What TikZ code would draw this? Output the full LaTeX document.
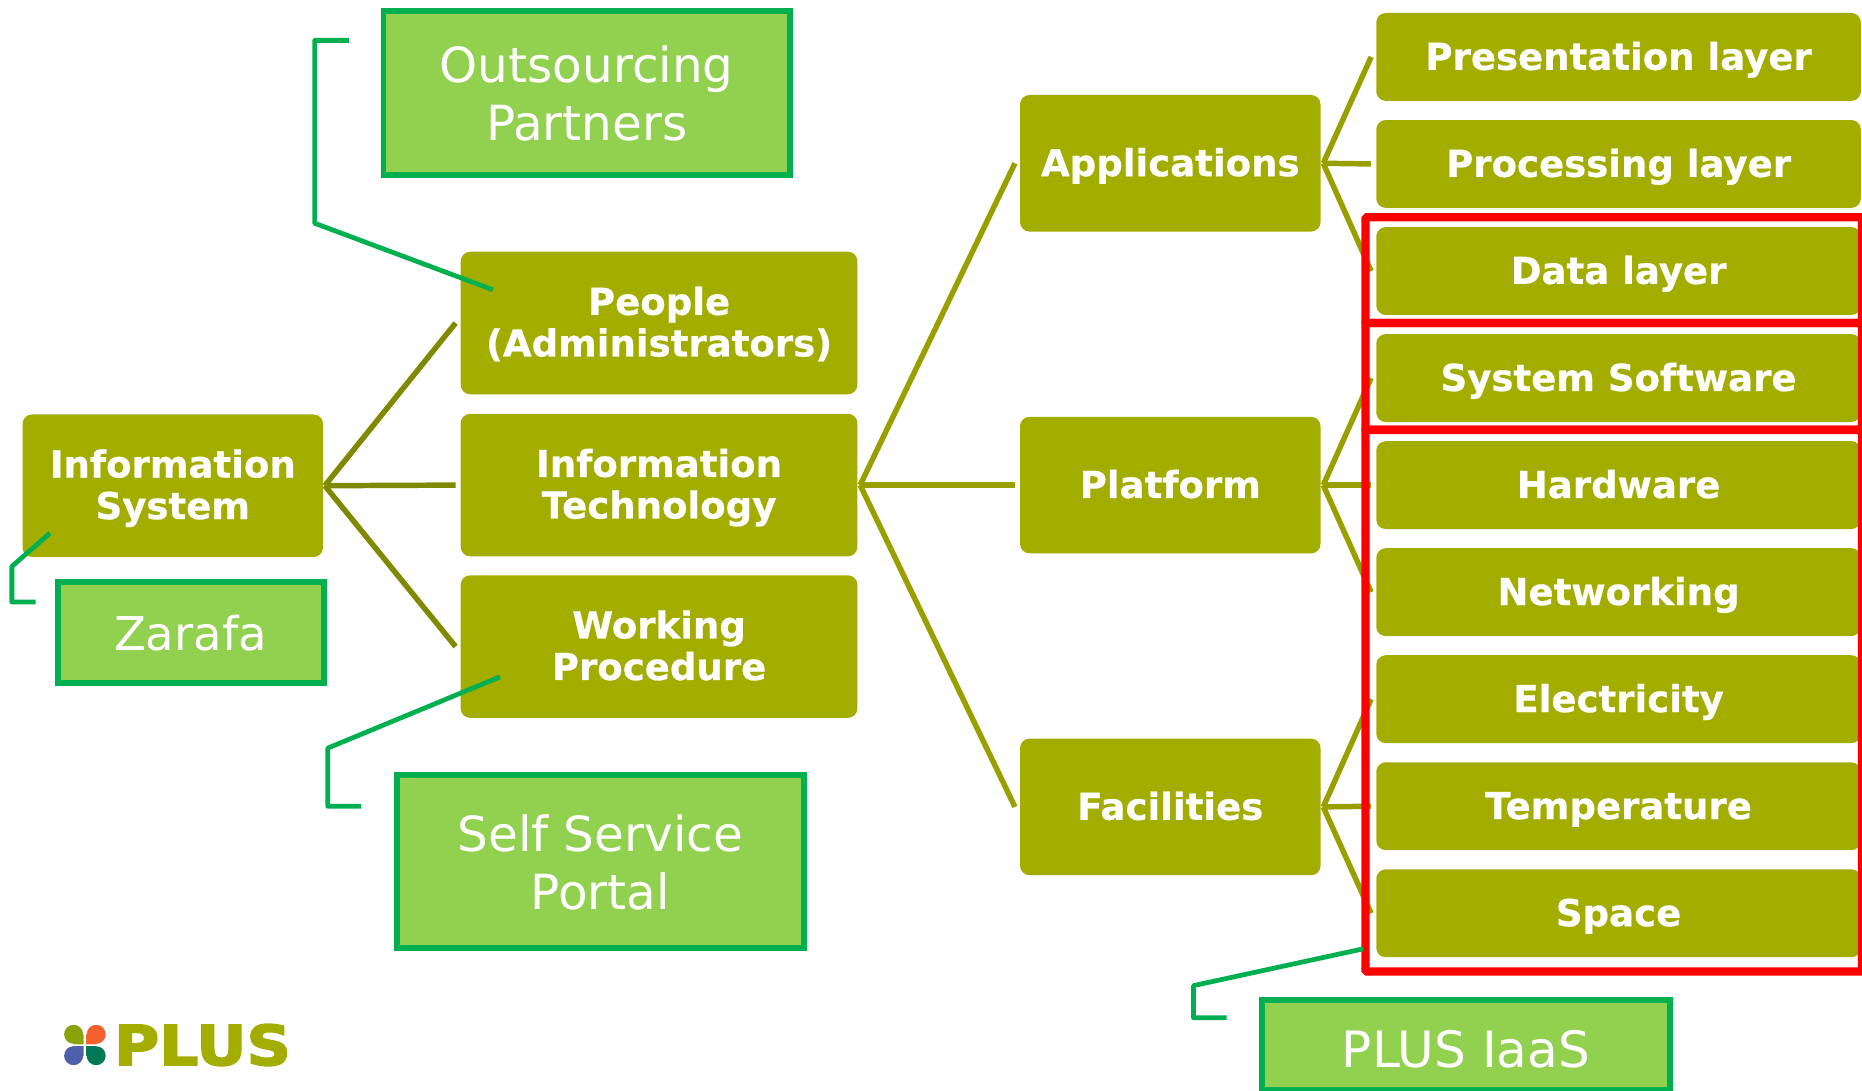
\documentclass[tikz,border=0pt]{standalone}
\usepackage{fontspec}
\setmainfont[BoldFeatures={FakeBold=0.6}]{DejaVu Sans}
\newfontfamily\logofont[BoldFeatures={FakeBold=3,FakeStretch=1.12}]{DejaVu Sans}
\usetikzlibrary{matrix}
\definecolor{boxolive}{HTML}{A3AD00}
\definecolor{linkdark}{HTML}{808A00}
\definecolor{linklight}{HTML}{9A9F00}
\definecolor{notefill}{HTML}{92D050}
\definecolor{noteline}{HTML}{00B050}
\definecolor{logoA}{HTML}{8AA30A}
\definecolor{logoB}{HTML}{F4602E}
\definecolor{logoC}{HTML}{4F5FAB}
\definecolor{logoD}{HTML}{007858}
\tikzset{
  olivebox/.style={fill=boxolive, rounded corners=0.2cm, inner sep=0pt, align=center, text=white,
    font=\fontsize{22.2}{24.9}\selectfont\bfseries},
  oneline/.style={text height=15.4pt, text depth=0pt},
  twoline/.style={text height=40pt, text depth=0pt},
  leafbox/.style={olivebox, oneline, minimum width=10.2cm, minimum height=1.85cm},
  midbox/.style={olivebox, oneline, minimum width=6.325cm, minimum height=2.875cm},
  secbox/.style={olivebox, twoline, minimum width=8.35cm, minimum height=3cm},
  notebox/.style={draw=noteline, fill=notefill, line width=0.125cm, inner sep=0pt, align=center, text=white,
    font=\fontsize{29}{34.8}\selectfont},
  redbox/.style={draw=red, line width=0.175cm, rounded corners=0.03cm, inner sep=0pt, minimum width=10.45cm},
  linkA/.style={draw=linkdark, line width=0.115cm},
  linkB/.style={draw=linklight, line width=0.115cm},
  callout/.style={draw=noteline, line width=0.1cm, line join=round}
}
\begin{document}
\begin{tikzpicture}[x=0.025cm, y=-0.025cm]
\useasboundingbox (0,0) rectangle (1568,918.7);
% boxes
\node[secbox, minimum width=6.325cm] (infosys) at (145.5,409) {Information\\System};
\node[secbox] (people) at (555,272) {People\\(Administrators)};
\node[secbox] (infotech) at (555,408.5) {Information\\Technology};
\node[secbox] (working) at (555,544.5) {Working\\Procedure};
\node[midbox] (apps) at (985.5,137.5) {Applications};
\node[midbox] (platform) at (985.5,408.5) {Platform};
\node[midbox] (facilities) at (985.5,679.5) {Facilities};
\matrix (L)[matrix of nodes, row sep=0.403cm, nodes={leafbox}] at (1363,408.5) {
Presentation layer\\
Processing layer\\
Data layer\\
System Software\\
Hardware\\
Networking\\
Electricity\\
Temperature\\
Space\\
};
% green notes
\node[notebox, minimum width=8.55cm, minimum height=3.45cm, twoline, text height=57.4pt] (outsourcing) at (494,78) {Outsourcing\\Partners};
\node[notebox, minimum width=5.6cm, minimum height=2.125cm, text height=21pt, text depth=0pt, font=\fontsize{27.9}{34.8}\selectfont] (zarafa) at (160.5,533) {Zarafa};
\node[notebox, minimum width=8.575cm, minimum height=3.65cm, twoline, text height=57.4pt] (selfservice) at (505.5,725.5) {Self Service\\Portal};
\node[notebox, minimum width=8.6cm, minimum height=1.9cm, text height=27pt, text depth=0pt, font=\fontsize{30}{34.8}\selectfont] (iaas) at (1234.5,880) {PLUS IaaS};
% tree lines
\foreach \t in {people,infotech,working}
  \draw[linkA] ([xshift=0.03cm]infosys.east) -- ([xshift=-0.1cm]\t.west);
\foreach \t in {apps,platform,facilities}
  \draw[linkB] ([xshift=0.05cm]infotech.east) -- ([xshift=-0.1cm]\t.west);
\foreach \i in {1,2,3}
  \draw[linkB] ([xshift=0.05cm]apps.east) -- ([xshift=-0.1cm]L-\i-1.west);
\foreach \i in {4,5,6}
  \draw[linkB] ([xshift=0.05cm]platform.east) -- ([xshift=-0.1cm]L-\i-1.west);
\foreach \i in {7,8,9}
  \draw[linkB] ([xshift=0.05cm]facilities.east) -- ([xshift=-0.1cm]L-\i-1.west);
% red frames
\node[redbox, minimum height=2.225cm] (reddata) at (1359,227.5) {};
\node[redbox, minimum height=2.25cm] (redsoft) at (1359,317) {};
\node[redbox, minimum height=11.4cm] (redinfra) at (1359,590) {};
% callouts
\coordinate (peopletip) at (415,244);
\coordinate (istip) at (42,449);
\coordinate (worktip) at (421,570);
\coordinate (iaastip) at (1148,799);
\draw[callout] (294,34) coordinate (outs1) -- (265,34) coordinate (outs2) -- (265,188) coordinate (outs3) -- (peopletip);
\draw[callout] (30,507) coordinate (zar1) -- (10,507) coordinate (zar2) -- (10,477) coordinate (zar3) -- (istip);
\draw[callout] (304,679) coordinate (self1) -- (276,679) coordinate (self2) -- (276,630) coordinate (self3) -- (worktip);
\draw[callout] (1033,857) coordinate (ia1) -- (1005,857) coordinate (ia2) -- (1005,830) coordinate (ia3) -- (iaastip);
% logo
\fill[logoA] (62,871) circle (0.2cm) (62,871) rectangle (70.5,879.5);
\fill[logoB] (81,871) circle (0.2cm) (72.5,871) rectangle (81,879.5);
\fill[logoC] (62,889) circle (0.2cm) (62,881) rectangle (70.5,889);
\fill[logoD] (81,889) circle (0.2cm) (72.5,881) rectangle (81,889);
\node[text=boxolive, inner sep=0pt, font=\logofont\fontsize{33}{33}\selectfont\bfseries] (plus) at (170.5,880) {PLUS};
\end{tikzpicture}
\end{document}
